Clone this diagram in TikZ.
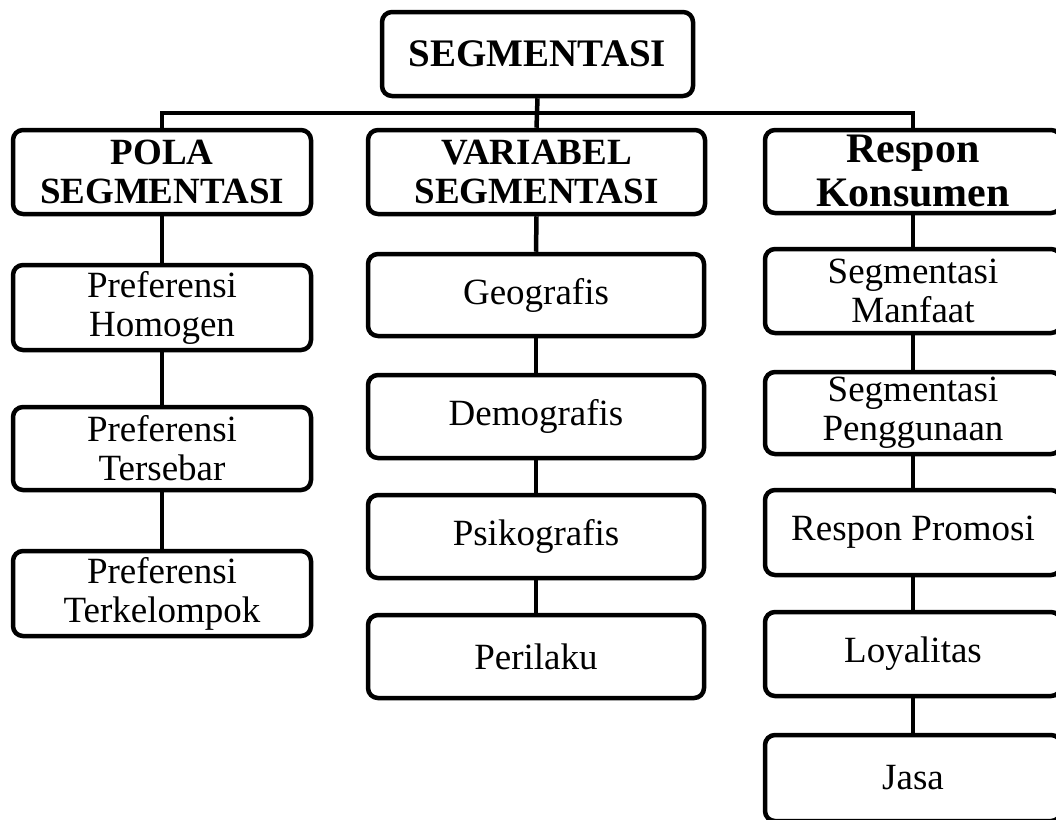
\documentclass[tikz,border=0pt]{standalone}
\usepackage{fontspec}
\setmainfont{Liberation Serif}
\begin{document}
\begin{tikzpicture}[x=1pt,y=-1pt,
  box/.style={draw, line width=4.5pt, rounded corners=10pt, align=center, inner sep=0pt,
    font=\fontsize{37}{39}\selectfont},
  bbox/.style={box, font=\fontsize{37}{39}\selectfont\bfseries},
  conn/.style={line width=4.5pt, line join=miter}]
\path[use as bounding box, clip] (0,0) rectangle (1056,819);
% top
\node[box, font=\fontsize{39}{40}\selectfont\bfseries, minimum width=311pt, minimum height=84pt] (top) at (537.5,54) {SEGMENTASI};
% headers
\node[bbox, minimum width=298pt, minimum height=84pt] (pola) at (162,172) {POLA\\SEGMENTASI};
\node[bbox, minimum width=337pt, minimum height=84pt] (var) at (536.5,172) {VARIABEL\\SEGMENTASI};
\node[box, font=\fontsize{42}{44}\selectfont\bfseries, minimum width=296pt, minimum height=83pt] (resp) at (913,171.5) {Respon\\Konsumen};
% left column
\node[box, minimum width=298pt, minimum height=85pt] (l1) at (162,307.5) {Preferensi\\Homogen};
\node[box, minimum width=298pt, minimum height=83pt] (l2) at (162,448.5) {Preferensi\\Tersebar};
\node[box, minimum width=298pt, minimum height=85pt] (l3) at (162,593.5) {Preferensi\\Terkelompok};
% middle column
\node[box, minimum width=336pt, minimum height=82pt] (m1) at (536,295) {Geografis};
\node[box, minimum width=336pt, minimum height=83pt] (m2) at (536,416.5) {Demografis};
\node[box, minimum width=336pt, minimum height=83pt] (m3) at (536,536.5) {Psikografis};
\node[box, minimum width=336pt, minimum height=83pt] (m4) at (536,656.5) {Perilaku};
% right column
\node[box, minimum width=296pt, minimum height=84pt] (r1) at (913,291) {Segmentasi\\Manfaat};
\node[box, minimum width=296pt, minimum height=82pt] (r2) at (913,413) {Segmentasi\\Penggunaan};
\node[box, minimum width=296pt, minimum height=85pt] (r3) at (913,532.5) {Respon Promosi};
\node[box, minimum width=296pt, minimum height=84pt] (r4) at (913,654) {Loyalitas};
\node[box, minimum width=296pt, minimum height=86pt] (r5) at (913,778) {Jasa};
% connectors
\coordinate (busL) at (162,113);
\coordinate (busR) at (913,113);
\draw[conn] (top.south) -- (var.north);
\draw[conn] (pola.north) -- (busL) -- (busR) -- (resp.north);
\draw[conn] (pola.south) -- (l1.north);
\draw[conn] (l1.south) -- (l2.north);
\draw[conn] (l2.south) -- (l3.north);
\draw[conn] (var.south) -- (m1.north);
\draw[conn] (m1.south) -- (m2.north);
\draw[conn] (m2.south) -- (m3.north);
\draw[conn] (m3.south) -- (m4.north);
\draw[conn] (resp.south) -- (r1.north);
\draw[conn] (r1.south) -- (r2.north);
\draw[conn] (r2.south) -- (r3.north);
\draw[conn] (r3.south) -- (r4.north);
\draw[conn] (r4.south) -- (r5.north);
\end{tikzpicture}
\end{document}
